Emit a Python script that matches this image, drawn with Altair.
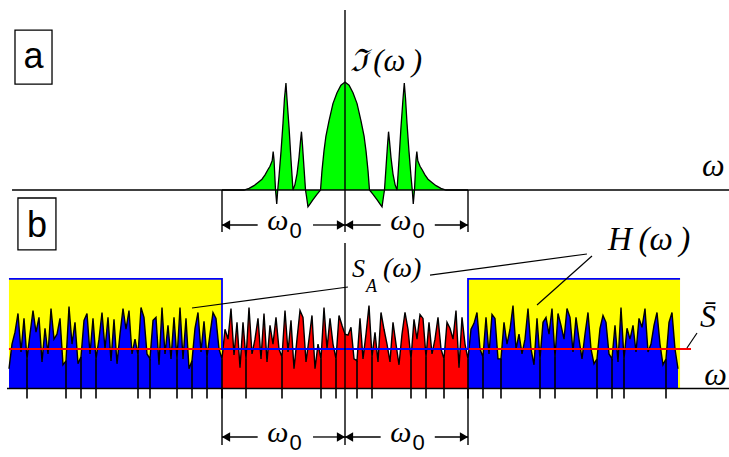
import altair as alt
import pandas as pd

# ---------------- data ----------------
# Top panel: spectrum ℑ(ω); ω in units of ω0, amplitude relative to the central peak
SPEC_OMEGA = [-1.0, -0.821, -0.780, -0.740, -0.707, -0.675, -0.650, -0.626, -0.610, -0.592,
              -0.584, -0.577, -0.565, -0.555, -0.547, -0.537, -0.520, -0.504, -0.492, -0.480,
              -0.472, -0.455, -0.439, -0.423, -0.407, -0.390, -0.374, -0.362, -0.354, -0.346,
              -0.333, -0.321, -0.313, -0.301, -0.285, -0.260, -0.228, -0.199, -0.187, -0.171,
              -0.155, -0.130, -0.098, -0.065, -0.033, 0.0,
              0.033, 0.065, 0.098, 0.130, 0.155, 0.171, 0.187, 0.199, 0.228, 0.260,
              0.285, 0.301, 0.313, 0.321, 0.333, 0.346, 0.354, 0.362, 0.374, 0.390,
              0.407, 0.423, 0.439, 0.455, 0.472, 0.482, 0.492, 0.504, 0.520, 0.537,
              0.547, 0.555, 0.565, 0.577, 0.584, 0.592, 0.610, 0.626, 0.650, 0.675,
              0.707, 0.740, 0.780, 0.821, 1.0]
SPEC_VALUE = [0, 0, 0.015, 0.04, 0.07, 0.10, 0.14, 0.19, 0.22, 0.27,
              0.355, 0.28, 0.0, -0.13, 0.0, 0.12, 0.36, 0.62, 0.85, 0.99,
              0.85, 0.58, 0.28, 0.0, 0.05, 0.15, 0.30, 0.45, 0.54, 0.42,
              0.20, 0.0, -0.06, -0.155, -0.13, -0.09, -0.04, 0.0, 0.18, 0.36,
              0.50, 0.64, 0.80, 0.90, 0.97, 1.0,
              0.97, 0.90, 0.80, 0.64, 0.50, 0.36, 0.18, 0.0, -0.04, -0.09,
              -0.13, -0.155, -0.06, 0.0, 0.20, 0.42, 0.54, 0.45, 0.30, 0.15,
              0.05, 0.0, 0.28, 0.58, 0.85, 0.99, 0.85, 0.62, 0.36, 0.12,
              0.0, -0.13, 0.0, 0.28, 0.355, 0.27, 0.22, 0.19, 0.14, 0.10,
              0.07, 0.04, 0.015, 0.0, 0.0]

# Bottom panel: noise spectrum S_A(ω), sampled every ω0/41 (mean level S̄ = 40)
NOISE = [20, 45, 57, 76, 37, 71, 30, 55, 79, 57,
         72, 27, 61, 35, 81, 50, 55, 71, 24, 28,
         83, 45, 67, 25, 32, 69, 76, 35, 71, 30,
         50, 77, 40, 72, 28, 70, 25, 55, 81, 60,
         79, 35, 50, 34, 82, 72, 35, 30, 69, 72,
         24, 82, 35, 64, 30, 72, 30, 82,
         30, 71, 20, 28, 61, 77, 37, 68, 32, 55,
         77, 71, 40, 30, 60, 50, 81, 34, 67, 21,
         67, 30, 82, 35, 50, 71, 30, 76, 27, 64,
         45, 72, 40, 32, 79, 37, 69, 20, 50, 79,
         72, 27, 50, 74, 20, 45, 30, 82, 40, 71,
         45, 30, 74, 64, 55,
         54, 62, 30, 28, 71, 30, 55, 84, 32, 57,
         27, 77, 60, 45, 27, 67, 45, 24, 55, 77,
         60, 30, 70, 50, 75, 71, 32, 67, 35, 50,
         72, 40, 30, 67, 61, 50, 79, 21, 72, 45,
         30, 60, 66, 77, 40, 32, 72, 35, 75, 71,
         30, 30, 67, 45, 60, 84, 40,
         55, 35, 50, 81, 40, 24, 71, 30, 67, 72,
         55, 81, 32, 76, 64, 50, 81, 72, 37, 72,
         50, 30, 55, 77, 40, 25, 30, 61, 74, 67,
         35, 30, 64, 27, 82, 30, 61, 50, 64, 37,
         71, 62, 81, 37, 45, 64, 77, 45, 24, 30,
         67, 77, 40, 20]
# samples where a narrow dip reaches below the axis
DEEP_DIP_INDEX = [6, 19, 24, 29, 43, 47, 56, 61, 66, 71, 79, 91, 104, 109,
                  116, 121, 134, 139, 145, 153, 158, 164, 177, 182, 196, 201, 205, 219]
DEEP_DIP_FLOOR = -10
SAMPLES_PER_OMEGA0 = 41
ZERO_INDEX = 112

S_MEAN = 40
MEAN_EXTENT = [-2.732, 2.813]
H_OMEGA = [-2.732, -1, -1, 1, 1, 2.724]
H_LEVEL = [111, 111, 40, 40, 111, 111]
PASS_X1 = [-2.732, 1]
PASS_X2 = [-1, 2.724]

# annotation geometry (data units)
TOP_LINES = dict(x1=[-2.707, 0, -1, 1], x2=[3.122, 0, -1, 1],
                 y1=[0, 1.667, 0, 0], y2=[0, -0.389, -0.389, -0.389])
BOT_LINES = dict(x1=[-2.748, 0, -1, 1], x2=[3.122, 0, -1, 1],
                 y1=[0, 147.3, 0, 0], y2=[0, -57.2, -57.2, -57.2])
LEADERS = dict(x1=[-1.244, 0.691, 2.008, 2.780], x2=[0.024, 1.967, 1.561, 2.862],
               y1=[81.5, 114.9, 134.2, 41.0], y2=[102.8, 136.2, 84.6, 56.2])
ARROW_X1 = [-1, -0.26, 0, 0.73]
ARROW_X2 = [-0.71, 0, 0.29, 1]
HEAD_LEFT_AT = [-1, 0]
HEAD_RIGHT_AT = [0, 1]
SPAN_MID = [-0.5, 0.5]
TOP_ARROW_LEVEL = -0.324
BOT_ARROW_LEVEL = -49.1

TOP_TEXT = ["ℑ\u2009(ω\u2009)", "ω"]
TOP_TEXT_X = [0.041, 2.902]
TOP_TEXT_Y = [1.102, 0.13]
TOP_TEXT_SIZE = [31, 32]

BOT_TEXT = ["S", "A", "(ω)", "H\u2009(ω\u2009)", "S\u0304", "ω"]
BOT_TEXT_X = [0.057, 0.171, 0.309, 2.138, 2.886, 2.92]
BOT_TEXT_Y = [112.9, 97.7, 112.9, 140.3, 62.3, 3.5]
BOT_TEXT_SIZE = [26, 18, 28, 33, 32, 32]

PANEL_LABEL = ["a", "b"]
PANEL_BOX_X1 = [-2.683, -2.659]
PANEL_BOX_X2 = [-2.382, -2.350]
PANEL_BOX_Y1 = [1.481, 192.9]
PANEL_BOX_Y2 = [0.981, 140.3]
PANEL_TEXT_X = [-2.5325, -2.504]
PANEL_TEXT_Y = [1.13, 153.4]

# ---------------- scales / layout ----------------
W, H = 729, 457
X_ZERO_PX, OMEGA0_PX = 345, 123
TOP_BASE_PX, TOP_UNIT_PX = 190, 108
BOT_BASE_PX, BOT_UNIT_PX = 388.5, 0.9875

XS = alt.Scale(domain=[-X_ZERO_PX / OMEGA0_PX, (W - X_ZERO_PX) / OMEGA0_PX],
               range=[0, W], nice=False, zero=False)
YT = alt.Scale(domain=[(TOP_BASE_PX - H) / TOP_UNIT_PX, TOP_BASE_PX / TOP_UNIT_PX],
               range=[H, 0], nice=False, zero=False)
YB = alt.Scale(domain=[(BOT_BASE_PX - H) / BOT_UNIT_PX, BOT_BASE_PX / BOT_UNIT_PX],
               range=[H, 0], nice=False, zero=False)

SERIF = "'Liberation Serif', 'DejaVu Serif', serif"
MATH = "'Liberation Serif', 'DejaVu Serif', serif"
SANS = "'Liberation Sans', Arial, sans-serif"


def xe(f="x"):
    return alt.X(f"{f}:Q", scale=XS, axis=None)


def ye(f, s):
    return alt.Y(f"{f}:Q", scale=s, axis=None)


def segments(d, s, color="black", width=1.4):
    df = pd.DataFrame(d)
    return alt.Chart(df).mark_rule(color=color, strokeWidth=width).encode(
        x=xe("x1"), x2=alt.X2("x2"), y=ye("y1", s), y2=alt.Y2("y2"))


def omega0_marks(level, s):
    segs = segments(dict(x1=ARROW_X1, x2=ARROW_X2,
                         y1=[level] * len(ARROW_X1), y2=[level] * len(ARROW_X1)), s, width=1.3)
    hl = alt.Chart(pd.DataFrame({"x": HEAD_LEFT_AT, "y": [level] * len(HEAD_LEFT_AT)})).mark_point(
        shape="triangle-left", filled=True, size=90, color="black", opacity=1, xOffset=4
    ).encode(x=xe(), y=ye("y", s))
    hr = alt.Chart(pd.DataFrame({"x": HEAD_RIGHT_AT, "y": [level] * len(HEAD_RIGHT_AT)})).mark_point(
        shape="triangle-right", filled=True, size=90, color="black", opacity=1, xOffset=-4
    ).encode(x=xe(), y=ye("y", s))
    lab = pd.DataFrame({"x": SPAN_MID, "y": [level] * len(SPAN_MID)})
    w = alt.Chart(lab).mark_text(text="ω", font=SERIF, fontStyle="italic", fontSize=30,
                                 align="right", baseline="alphabetic", dx=5, dy=5,
                                 color="black").encode(x=xe(), y=ye("y", s))
    z = alt.Chart(lab).mark_text(text="0", font=SANS, fontSize=22,
                                 align="left", baseline="alphabetic", dx=6, dy=13,
                                 color="black").encode(x=xe(), y=ye("y", s))
    return [segs, hl, hr, w, z]


def texts(txt, xs, ys, sizes, s, font=MATH, style="italic", align="left"):
    df = pd.DataFrame({"t": txt, "x": xs, "y": ys, "size": sizes})
    return alt.Chart(df).mark_text(font=font, fontStyle=style, align=align,
                                   baseline="alphabetic", color="black").encode(
        x=xe(), y=ye("y", s), text="t:N", size=alt.Size("size:Q", scale=None, legend=None))


# ---------------- top panel ----------------
spec = pd.DataFrame({"x": SPEC_OMEGA, "v": SPEC_VALUE})
top_layers = [
    alt.Chart(spec).mark_area(color="#00FF00").encode(x=xe(), y=ye("v", YT), y2=alt.Y2Datum(0)),
    alt.Chart(spec).mark_line(color="black", strokeWidth=1.3).encode(x=xe(), y=ye("v", YT)),
    segments(TOP_LINES, YT, width=1.4),
] + omega0_marks(TOP_ARROW_LEVEL, YT) + [
    texts(TOP_TEXT, TOP_TEXT_X, TOP_TEXT_Y, TOP_TEXT_SIZE, YT),
]

# ---------------- bottom panel ----------------
noise = pd.DataFrame({
    "x": [(k - ZERO_INDEX) / SAMPLES_PER_OMEGA0 for k in range(len(NOISE))],
    "v": NOISE,
})
left = noise[noise.x <= -1]
mid = noise[(noise.x >= -1) & (noise.x <= 1)]
right = noise[noise.x >= 1]
dips = noise.iloc[DEEP_DIP_INDEX].assign(floor=DEEP_DIP_FLOOR)
passband = pd.DataFrame({"x1": PASS_X1, "x2": PASS_X2, "y1": [0, 0], "y2": [max(H_LEVEL)] * 2})
hline = pd.DataFrame({"x": H_OMEGA, "v": H_LEVEL, "i": list(range(len(H_OMEGA)))})


def noise_area(df, color):
    return alt.Chart(df).mark_area(color=color).encode(x=xe(), y=ye("v", YB), y2=alt.Y2Datum(0))


bot_layers = [
    alt.Chart(passband).mark_rect(color="#FFFF00").encode(
        x=xe("x1"), x2=alt.X2("x2"), y=ye("y1", YB), y2=alt.Y2("y2")),
    noise_area(left, "#0000FF"),
    noise_area(right, "#0000FF"),
    noise_area(mid, "#FF0000"),
    alt.Chart(noise).mark_line(color="black", strokeWidth=1.4).encode(x=xe(), y=ye("v", YB)),
    alt.Chart(dips).mark_rule(color="black", strokeWidth=1.6).encode(
        x=xe(), y=ye("floor", YB), y2=alt.Y2("v")),
    segments(dict(x1=[MEAN_EXTENT[0]], x2=[MEAN_EXTENT[1]], y1=[S_MEAN], y2=[S_MEAN]),
             YB, color="#FF0000", width=1.8),
    alt.Chart(hline).mark_line(color="#0000FF", strokeWidth=1.8).encode(
        x=xe(), y=ye("v", YB), order="i:Q"),
    segments(BOT_LINES, YB, width=1.4),
    segments(LEADERS, YB, width=1.2),
] + omega0_marks(BOT_ARROW_LEVEL, YB) + [
    texts(BOT_TEXT, BOT_TEXT_X, BOT_TEXT_Y, BOT_TEXT_SIZE, YB),
]

# ---------------- panel letters ----------------
boxes_top = pd.DataFrame({"x1": PANEL_BOX_X1[:1], "x2": PANEL_BOX_X2[:1],
                          "y1": PANEL_BOX_Y1[:1], "y2": PANEL_BOX_Y2[:1]})
boxes_bot = pd.DataFrame({"x1": PANEL_BOX_X1[1:], "x2": PANEL_BOX_X2[1:],
                          "y1": PANEL_BOX_Y1[1:], "y2": PANEL_BOX_Y2[1:]})
letter_layers = [
    alt.Chart(boxes_top).mark_rect(fill="white", stroke="black", strokeWidth=1.3).encode(
        x=xe("x1"), x2=alt.X2("x2"), y=ye("y1", YT), y2=alt.Y2("y2")),
    alt.Chart(boxes_bot).mark_rect(fill="white", stroke="black", strokeWidth=1.3).encode(
        x=xe("x1"), x2=alt.X2("x2"), y=ye("y1", YB), y2=alt.Y2("y2")),
    texts(PANEL_LABEL[:1], PANEL_TEXT_X[:1], PANEL_TEXT_Y[:1], [36], YT,
          font=SANS, style="normal", align="center"),
    texts(PANEL_LABEL[1:], PANEL_TEXT_X[1:], PANEL_TEXT_Y[1:], [36], YB,
          font=SANS, style="normal", align="center"),
]

chart = alt.layer(*(top_layers + bot_layers + letter_layers)).resolve_scale(
    y="independent"
).properties(
    width=W, height=H, padding=0, autosize="none", background="white"
).configure_view(strokeWidth=0)

chart.save("out.html", embed_options={"renderer": "svg", "actions": False})
